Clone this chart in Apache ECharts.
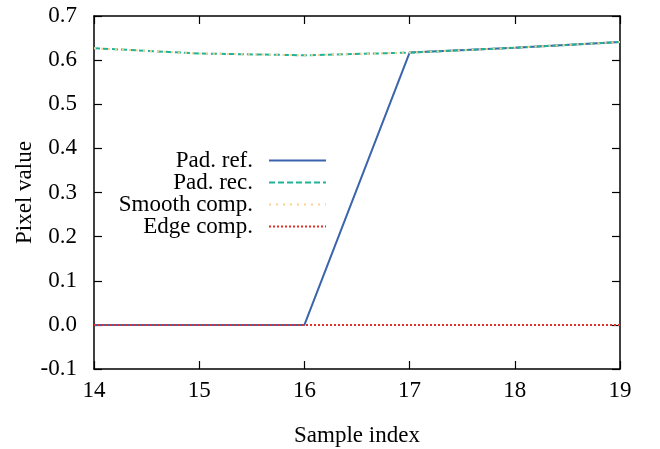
<!DOCTYPE html>
<html>
<head>
<meta charset="utf-8">
<script src="https://cdn.jsdelivr.net/npm/echarts@6/dist/echarts.min.js"></script>
<style>
  html, body { margin: 0; padding: 0; background: #fff; }
  #chart { width: 660px; height: 449px; }
</style>
</head>
<body>
<div id="chart"></div>
<script>
  // data
  var sampleIdx = [14, 15, 16, 17, 18, 19];
  var padRef = [0, 0, 0, 0.617, 0.628, 0.641];
  var padRec = [0.627, 0.615, 0.611, 0.617, 0.628, 0.641];
  var smoothComp = [0.627, 0.615, 0.611, 0.617, 0.628, 0.641];
  var edgeComp = [0, 0, 0, 0, 0, 0];
  var names = ['Pad. ref.', 'Pad. rec.', 'Smooth comp.', 'Edge comp.'];

  function pairs(ys) {
    return sampleIdx.map(function (x, i) { return [x, ys[i]]; });
  }

  var font = 'Liberation Serif';
  var chart = echarts.init(document.getElementById('chart'));

  var axisLineStyle = { color: '#000', width: 1.5 };
  var tickStyle = { show: true, inside: true, length: 8, lineStyle: { color: '#000', width: 1.2 } };

  chart.setOption({
    animation: false,
    textStyle: { fontFamily: font },
    grid: { left: 94, right: 40, top: 16, bottom: 80, outerBoundsMode: 'none', containLabel: false },
    legend: {
      data: names,
      orient: 'vertical',
      right: 328,
      top: 144,
      align: 'right',
      itemWidth: 57,
      itemHeight: 14,
      itemGap: -1,
      itemStyle: { opacity: 0 },
      textStyle: { fontFamily: font, fontSize: 23, color: '#000', padding: [0, 11, 0, 0] }
    },
    xAxis: [
      {
        type: 'value', min: 14, max: 19, interval: 1,
        name: 'Sample index', nameLocation: 'middle', nameGap: 55,
        nameTextStyle: { fontFamily: font, fontSize: 23, color: '#000' },
        axisLine: { show: true, onZero: false, lineStyle: axisLineStyle },
        axisTick: tickStyle,
        splitLine: { show: false },
        axisLabel: { color: '#000', fontSize: 23, fontFamily: font, margin: 10 }
      },
      {
        type: 'value', position: 'top', min: 14, max: 19, interval: 1,
        axisLine: { show: true, onZero: false, lineStyle: axisLineStyle },
        axisTick: tickStyle,
        splitLine: { show: false },
        axisLabel: { show: false }
      }
    ],
    yAxis: [
      {
        type: 'value', min: -0.1, max: 0.7, interval: 0.1,
        name: 'Pixel value', nameLocation: 'middle', nameGap: 58, nameMoveOverlap: false,
        nameTextStyle: { fontFamily: font, fontSize: 23, color: '#000' },
        axisLine: { show: true, onZero: false, lineStyle: axisLineStyle },
        axisTick: tickStyle,
        splitLine: { show: false },
        axisLabel: {
          color: '#000', fontSize: 23, fontFamily: font, margin: 17,
          formatter: function (v) { return v.toFixed(1); }
        }
      },
      {
        type: 'value', position: 'right', min: -0.1, max: 0.7, interval: 0.1,
        axisLine: { show: true, onZero: false, lineStyle: axisLineStyle },
        axisTick: tickStyle,
        splitLine: { show: false },
        axisLabel: { show: false }
      }
    ],
    series: [
      {
        name: names[0], type: 'line', data: pairs(padRef), symbol: 'none',
        lineStyle: { color: '#3b64ad', width: 2 }, itemStyle: { color: '#3b64ad' }
      },
      {
        name: names[1], type: 'line', data: pairs(padRec), symbol: 'none',
        lineStyle: { color: '#1fb397', width: 2, type: [6, 3] }, itemStyle: { color: '#1fb397' }
      },
      {
        name: names[2], type: 'line', data: pairs(smoothComp), symbol: 'none',
        lineStyle: { color: '#fcd08f', width: 2, type: [2, 5] }, itemStyle: { color: '#fcd08f' }
      },
      {
        name: names[3], type: 'line', data: pairs(edgeComp), symbol: 'none',
        lineStyle: { color: '#e2302a', width: 2, type: [2, 2] }, itemStyle: { color: '#e2302a' }
      }
    ]
  });
</script>
</body>
</html>
